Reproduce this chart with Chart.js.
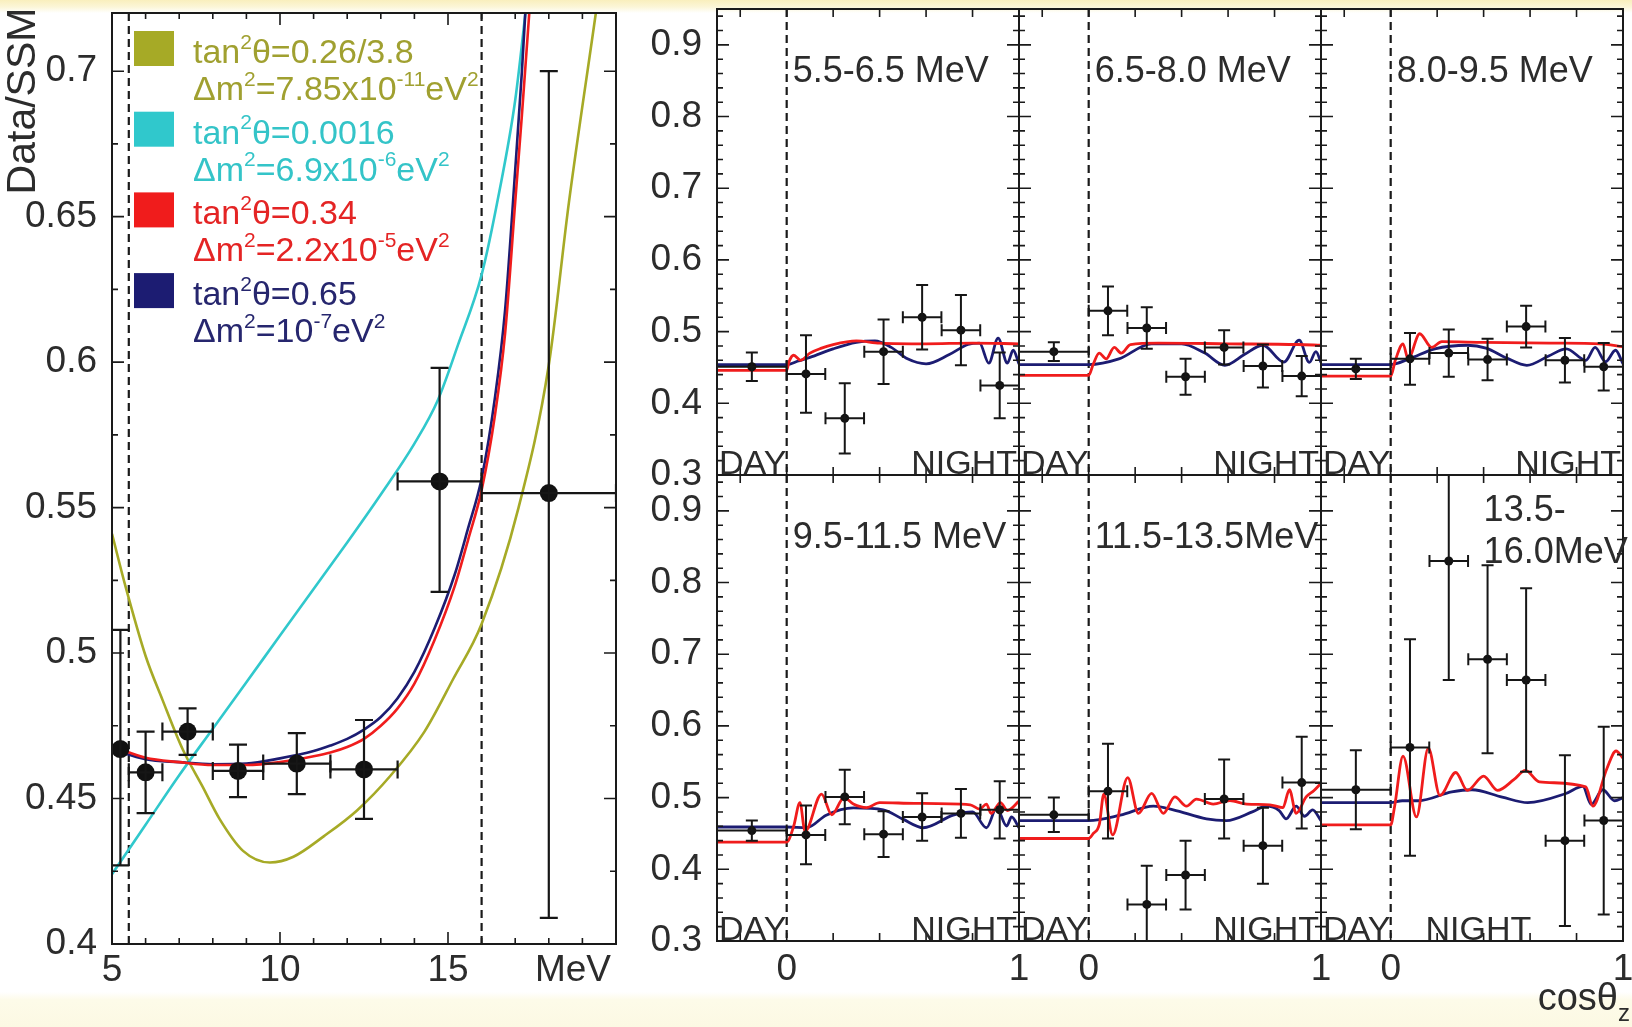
<!DOCTYPE html>
<html lang="en">
<head>
<meta charset="UTF-8">
<title>Data/SSM spectrum and zenith angle distributions</title>
<script src="https://cdn.jsdelivr.net/npm/chart.js"></script>
<style>
  html, body { margin: 0; padding: 0; }
  body {
    width: 1632px; height: 1027px; overflow: hidden; position: relative;
    background: linear-gradient(to bottom, #f9efbd 0px, #fcf6d8 7px, #ffffff 13px, #ffffff 992px, #fdfbe9 1000px, #fcf9e3 1027px);
  }
  canvas { position: absolute; left: 0; top: 0; }
</style>
</head>
<body>
<canvas id="spectrum" width="1632" height="1027"></canvas>
<script>
const W = 1632, H = 1027;
const FONT = '"Liberation Sans", Arial, Helvetica, sans-serif';
const INK = '#2c2c2c';
const RED = '#f01c1c', NAVY = '#1c1c72', CYAN = '#30c8cc', OLIVE = '#a6aa26';

// ---- energy spectrum (Data/SSM vs MeV) ----
const specEnergy  = [5.25, 6.0, 7.25, 8.75, 10.5, 12.5, 14.75, 18.0];
const specBinLow  = [5.25, 5.5, 6.5, 8.0, 9.5, 11.5, 13.5, 16.0];
const specBinHigh = [5.25, 6.5, 8.0, 9.5, 11.5, 13.5, 16.0, 20.0];
const specRatio   = [0.467, 0.459, 0.473, 0.4595, 0.462, 0.460, 0.559, 0.555];
const specErrUp   = [0.041, 0.014, 0.008, 0.009, 0.0105, 0.017, 0.039, 0.145];
const specErrDown = [0.040, 0.014, 0.008, 0.009, 0.0105, 0.017, 0.038, 0.146];

// model predictions
const vacEnergy = [5.0, 5.4, 6.0, 6.5, 7.1, 7.7, 8.2, 8.9, 9.7, 10.4, 11.3, 12.3, 13.3, 14.3, 15.15, 16.0, 17.1, 18.0, 18.6, 19.4, 19.7];
const vacRatio  = [0.541, 0.523, 0.499, 0.484, 0.467, 0.454, 0.443, 0.432, 0.428, 0.430, 0.437, 0.446, 0.458, 0.473, 0.491, 0.510, 0.550, 0.599, 0.655, 0.720, 0.745];
const smaEnergy = [5.0, 6.0, 7.0, 8.0, 9.0, 10.0, 11.0, 12.0, 13.0, 14.0, 14.7, 15.3, 16.0, 16.5, 17.0, 17.4];
const smaRatio  = [0.424, 0.441, 0.458, 0.474, 0.490, 0.506, 0.522, 0.538, 0.5545, 0.572, 0.587, 0.606, 0.630, 0.657, 0.690, 0.730];
const lmaEnergy = [5.0, 6.0, 7.0, 8.0, 9.0, 10.0, 11.0, 11.5, 12.0, 12.5, 13.0, 13.5, 14.0, 14.6, 15.2, 15.6, 16.0, 16.4, 16.7, 17.0, 17.2, 17.45];
const lmaRatio  = [0.468, 0.464, 0.4625, 0.4615, 0.4615, 0.4625, 0.4645, 0.4658, 0.4677, 0.4705, 0.475, 0.481, 0.4895, 0.5045, 0.523, 0.539, 0.556, 0.582, 0.610, 0.655, 0.685, 0.725];
const lowEnergy = [5.0, 6.0, 7.0, 8.0, 9.0, 10.0, 11.0, 11.5, 12.0, 12.5, 13.0, 13.5, 14.0, 14.6, 15.2, 15.6, 16.0, 16.4, 16.7, 17.0, 17.2, 17.4];
const lowRatio  = [0.467, 0.4635, 0.4625, 0.4618, 0.462, 0.4638, 0.4663, 0.4682, 0.4705, 0.4737, 0.478, 0.4845, 0.4935, 0.5085, 0.527, 0.543, 0.560, 0.588, 0.618, 0.666, 0.700, 0.740];

const modelColors = [OLIVE, CYAN, RED, NAVY];
const modelMixing = [
  [['tan'], ['2', 'sup'], ['\u03b8=0.26/3.8']],
  [['tan'], ['2', 'sup'], ['\u03b8=0.0016']],
  [['tan'], ['2', 'sup'], ['\u03b8=0.34']],
  [['tan'], ['2', 'sup'], ['\u03b8=0.65']]
];
const modelMass = [
  [['\u0394m'], ['2', 'sup'], ['=7.85x10'], ['-11', 'sup'], ['eV'], ['2', 'sup']],
  [['\u0394m'], ['2', 'sup'], ['=6.9x10'], ['-6', 'sup'], ['eV'], ['2', 'sup']],
  [['\u0394m'], ['2', 'sup'], ['=2.2x10'], ['-5', 'sup'], ['eV'], ['2', 'sup']],
  [['\u0394m'], ['2', 'sup'], ['=10'], ['-7', 'sup'], ['eV'], ['2', 'sup']]
];

// ---- zenith angle distributions, one panel per energy bin ----
const zenithLabels = [['5.5-6.5 MeV'], ['6.5-8.0 MeV'], ['8.0-9.5 MeV'], ['9.5-11.5 MeV'], ['11.5-13.5MeV'], ['13.5-', '16.0MeV']];
const zenithCos  = [-0.15, 0.083, 0.25, 0.417, 0.583, 0.75, 0.917];
const zenithHalf = [0.15, 0.083, 0.083, 0.083, 0.083, 0.083, 0.083];
const zenithRatio = [
  [0.451, 0.441, 0.379, 0.472, 0.520, 0.502, 0.425],
  [0.472, 0.529, 0.505, 0.437, 0.478, 0.452, 0.438],
  [0.448, 0.462, 0.470, 0.461, 0.507, 0.460, 0.451],
  [0.454, 0.448, 0.501, 0.449, 0.473, 0.478, 0.483],
  [0.476, 0.509, 0.351, 0.392, 0.498, 0.433, 0.521],
  [0.511, 0.570, 0.830, 0.693, 0.664, 0.440, 0.468]
];
const zenithErr = [
  [0.020, 0.054, 0.049, 0.045, 0.045, 0.049, 0.046],
  [0.013, 0.034, 0.029, 0.025, 0.024, 0.030, 0.028],
  [0.014, 0.036, 0.033, 0.029, 0.029, 0.031, 0.033],
  [0.014, 0.041, 0.038, 0.032, 0.033, 0.034, 0.040],
  [0.024, 0.066, 0.054, 0.048, 0.055, 0.053, 0.064],
  [0.055, 0.151, 0.166, 0.131, 0.128, 0.119, 0.131]
];
const lmaDay = [0.446, 0.439, 0.438, 0.438, 0.443, 0.462];
const lowDay = [0.454, 0.454, 0.454, 0.459, 0.468, 0.493];
const lmaNight = [
  [[0.01, 0.458], [0.03, 0.467], [0.06, 0.460], [0.10, 0.470], [0.15, 0.477], [0.20, 0.482], [0.30, 0.487], [0.40, 0.484], [0.60, 0.483], [0.80, 0.484], [1.00, 0.483]],
  [[0.02, 0.455], [0.045, 0.470], [0.075, 0.462], [0.11, 0.478], [0.14, 0.470], [0.18, 0.482], [0.30, 0.484], [0.60, 0.483], [0.90, 0.482], [1.00, 0.481]],
  [[0.02, 0.460], [0.053, 0.483], [0.075, 0.462], [0.125, 0.497], [0.176, 0.478], [0.22, 0.486], [0.40, 0.485], [0.70, 0.484], [0.90, 0.483], [1.00, 0.479]],
  [[0.03, 0.460], [0.057, 0.493], [0.079, 0.453], [0.15, 0.505], [0.194, 0.476], [0.247, 0.500], [0.287, 0.491], [0.344, 0.486], [0.40, 0.493], [0.55, 0.492], [0.79, 0.490], [0.83, 0.484], [0.86, 0.491], [0.88, 0.478], [0.92, 0.493], [0.95, 0.482], [1.00, 0.495]],
  [[0.02, 0.450], [0.046, 0.463], [0.065, 0.505], [0.103, 0.448], [0.168, 0.528], [0.214, 0.478], [0.271, 0.506], [0.321, 0.478], [0.371, 0.501], [0.421, 0.488], [0.464, 0.498], [0.536, 0.491], [0.607, 0.496], [0.68, 0.491], [0.78, 0.490], [0.836, 0.486], [0.864, 0.511], [0.893, 0.478], [0.936, 0.501], [0.97, 0.510], [1.00, 0.520]],
  [[0.017, 0.488], [0.053, 0.558], [0.111, 0.473], [0.162, 0.569], [0.212, 0.503], [0.28, 0.535], [0.33, 0.510], [0.40, 0.530], [0.46, 0.510], [0.53, 0.525], [0.58, 0.538], [0.64, 0.522], [0.84, 0.515], [0.87, 0.488], [0.93, 0.540], [0.97, 0.565], [1.00, 0.555]]
];
const lowNight = [
  [[0.05, 0.459], [0.10, 0.464], [0.20, 0.476], [0.30, 0.485], [0.38, 0.487], [0.45, 0.478], [0.52, 0.462], [0.60, 0.455], [0.70, 0.468], [0.78, 0.482], [0.83, 0.484], [0.87, 0.456], [0.91, 0.491], [0.95, 0.456], [0.975, 0.474], [1.00, 0.455]],
  [[0.13, 0.462], [0.27, 0.483], [0.40, 0.483], [0.50, 0.470], [0.586, 0.453], [0.67, 0.468], [0.75, 0.481], [0.84, 0.4575], [0.906, 0.488], [0.95, 0.457], [0.978, 0.472], [1.00, 0.457]],
  [[0.08, 0.462], [0.19, 0.476], [0.33, 0.481], [0.41, 0.477], [0.50, 0.463], [0.586, 0.453], [0.68, 0.466], [0.756, 0.476], [0.84, 0.460], [0.88, 0.478], [0.925, 0.458], [0.968, 0.474], [1.00, 0.455]],
  [[0.086, 0.458], [0.17, 0.4755], [0.287, 0.4856], [0.416, 0.483], [0.50, 0.470], [0.588, 0.458], [0.717, 0.4755], [0.80, 0.480], [0.86, 0.458], [0.904, 0.4856], [0.947, 0.4604], [0.968, 0.473], [1.00, 0.458]],
  [[0.136, 0.4755], [0.279, 0.488], [0.364, 0.483], [0.507, 0.4704], [0.593, 0.468], [0.707, 0.4805], [0.764, 0.488], [0.82, 0.482], [0.85, 0.4704], [0.893, 0.488], [0.929, 0.474], [0.964, 0.483], [1.00, 0.468]],
  [[0.05, 0.4956], [0.12, 0.4956], [0.263, 0.508], [0.35, 0.511], [0.48, 0.5007], [0.59, 0.493], [0.754, 0.5057], [0.827, 0.5158], [0.863, 0.4906], [0.913, 0.511], [0.964, 0.4956], [1.00, 0.500]]
];

Chart.defaults.font.family = FONT;

// draws a run of text pieces, some of them raised as superscripts
function richText(ctx, parts, x, y, size, color, align) {
  ctx.save();
  ctx.fillStyle = color;
  ctx.textBaseline = 'alphabetic';
  ctx.textAlign = 'left';
  const items = parts.map(p => {
    const s = p[1] ? Math.round(size * 0.62) : size;
    ctx.font = s + 'px ' + FONT;
    return { t: p[0], s: s, w: ctx.measureText(p[0]).width, dy: p[1] === 'sup' ? -size * 0.42 : p[1] === 'sub' ? size * 0.3 : 0 };
  });
  const total = items.reduce((acc, it) => acc + it.w, 0);
  let cx = align === 'right' ? x - total : align === 'center' ? x - total / 2 : x;
  items.forEach(it => {
    ctx.font = it.s + 'px ' + FONT;
    ctx.fillText(it.t, cx, y + it.dy);
    cx += it.w;
  });
  ctx.restore();
}

function label(ctx, text, x, y, size, align, baseline) {
  ctx.save();
  ctx.font = size + 'px ' + FONT;
  ctx.fillStyle = INK;
  ctx.textAlign = align;
  ctx.textBaseline = baseline;
  ctx.fillText(text, x, y);
  ctx.restore();
}

// frame, inward ticks, dashed markers and error bars for one panel
function framePlugin(cfg) {
  return {
    id: 'frame',
    beforeDatasetsDraw(chart) {
      const { ctx, chartArea: a, scales: { x } } = chart;
      ctx.save();
      ctx.beginPath();
      ctx.rect(a.left, a.top, a.width, a.height);
      ctx.clip();
      ctx.strokeStyle = '#1a1a1a';
      ctx.lineWidth = 2.2;
      ctx.setLineDash([8, 5]);
      cfg.dashed.forEach(v => {
        const px = x.getPixelForValue(v);
        ctx.beginPath();
        ctx.moveTo(px, a.top);
        ctx.lineTo(px, a.bottom);
        ctx.stroke();
      });
      ctx.restore();
    },
    afterDatasetsDraw(chart) {
      const { ctx, chartArea: a, scales: { x, y } } = chart;
      ctx.save();
      ctx.beginPath();
      ctx.rect(a.left, a.top, a.width, a.height);
      ctx.clip();
      ctx.strokeStyle = '#161616';
      ctx.lineWidth = cfg.barWidth;
      cfg.bars.forEach(b => {
        const px = x.getPixelForValue(b.x), py = y.getPixelForValue(b.y);
        const y1 = y.getPixelForValue(b.yl), y2 = y.getPixelForValue(b.yh);
        ctx.beginPath();
        ctx.moveTo(px, y1); ctx.lineTo(px, y2);
        ctx.moveTo(px - cfg.cap, y1); ctx.lineTo(px + cfg.cap, y1);
        ctx.moveTo(px - cfg.cap, y2); ctx.lineTo(px + cfg.cap, y2);
        if (b.xl !== b.xh) {
          const x1 = x.getPixelForValue(b.xl), x2 = x.getPixelForValue(b.xh);
          ctx.moveTo(x1, py); ctx.lineTo(x2, py);
          ctx.moveTo(x1, py - cfg.cap); ctx.lineTo(x1, py + cfg.cap);
          ctx.moveTo(x2, py - cfg.cap); ctx.lineTo(x2, py + cfg.cap);
        }
        ctx.stroke();
      });
      ctx.restore();

      ctx.save();
      ctx.strokeStyle = '#1a1a1a';
      ctx.lineWidth = 2;
      ctx.strokeRect(a.left, a.top, a.width, a.height);
      ctx.lineWidth = 1.6;
      ctx.beginPath();
      cfg.xTicks.forEach(([v, len]) => {
        const px = x.getPixelForValue(v);
        ctx.moveTo(px, a.top); ctx.lineTo(px, a.top + len);
        ctx.moveTo(px, a.bottom); ctx.lineTo(px, a.bottom - len);
      });
      cfg.yTicks.forEach(([v, len]) => {
        const py = y.getPixelForValue(v);
        ctx.moveTo(a.left, py); ctx.lineTo(a.left + len, py);
        ctx.moveTo(a.right, py); ctx.lineTo(a.right - len, py);
      });
      ctx.stroke();
      ctx.restore();

      cfg.xLabels.forEach(v => label(ctx, String(v), x.getPixelForValue(v), cfg.xLabelY, 37, 'center', 'middle'));
      cfg.yLabels.forEach(v => label(ctx, cfg.yFormat(v), a.left - 15, y.getPixelForValue(v), 37, 'right', 'middle'));
      if (cfg.extra) cfg.extra(chart);
    }
  };
}

function curve(xs, ys) {
  return xs.map((v, i) => ({ x: v, y: ys[i] }));
}

function lineSet(data, color, width) {
  return {
    data: data, showLine: true, borderColor: color, borderWidth: width,
    pointRadius: 0, cubicInterpolationMode: 'monotone', clip: 0
  };
}

function baseOptions(area, xr, yr) {
  return {
    responsive: false,
    animation: false,
    events: [],
    layout: { padding: { left: area[0], top: area[1], right: W - area[2], bottom: H - area[3] } },
    scales: {
      x: { type: 'linear', min: xr[0], max: xr[1], display: false },
      y: { type: 'linear', min: yr[0], max: yr[1], display: false }
    },
    plugins: { legend: { display: false }, tooltip: { enabled: false } }
  };
}

// ---- left panel: spectrum ----
(function () {
  const xTicks = [];
  for (let e = 5; e <= 20; e++) xTicks.push([e, e % 5 === 0 ? 12 : 6]);
  const yTicks = [];
  for (let k = 0; k <= 13; k++) yTicks.push([0.4 + k * 0.025, k % 2 === 0 ? 12 : 6]);

  const bars = specEnergy.map((e, i) => ({
    x: e, y: specRatio[i], xl: specBinLow[i], xh: specBinHigh[i],
    yl: specRatio[i] - specErrDown[i], yh: specRatio[i] + specErrUp[i]
  }));

  const cfg = {
    dashed: [5.5, 16],
    bars: bars, cap: 9, barWidth: 2.2,
    xTicks: xTicks, yTicks: yTicks,
    xLabels: [5, 10, 15], xLabelY: 971,
    yLabels: [0.4, 0.45, 0.5, 0.55, 0.6, 0.65, 0.7],
    yFormat: v => String(v),
    extra(chart) {
      const ctx = chart.ctx;
      label(ctx, 'MeV', 573, 971, 37, 'center', 'middle');
      ctx.save();
      ctx.translate(35, 101);
      ctx.rotate(-Math.PI / 2);
      label(ctx, 'Data/SSM', 0, 0, 41, 'center', 'alphabetic');
      ctx.restore();
      const textColors = ['#a0a030', '#34c4c8', '#e42424', '#26266e'];
      modelColors.forEach((c, i) => {
        const top = 31 + i * 80.7;
        ctx.fillStyle = c;
        ctx.fillRect(134, top, 40, 35);
        richText(ctx, modelMixing[i], 193, top + 32, 34, textColors[i], 'left');
        richText(ctx, modelMass[i], 193, top + 69, 34, textColors[i], 'left');
      });
    }
  };

  new Chart(document.getElementById('spectrum'), {
    type: 'scatter',
    data: {
      datasets: [
        { data: curve(specEnergy, specRatio), pointRadius: 9, pointBackgroundColor: '#111', pointBorderWidth: 0, showLine: false },
        lineSet(curve(lmaEnergy, lmaRatio), RED, 2.6),
        lineSet(curve(lowEnergy, lowRatio), NAVY, 2.6),
        lineSet(curve(smaEnergy, smaRatio), CYAN, 2.6),
        lineSet(curve(vacEnergy, vacRatio), OLIVE, 2.6)
      ]
    },
    options: baseOptions([112, 13, 616, 944], [5, 20], [0.4, 0.72]),
    plugins: [framePlugin(cfg)]
  });
})();

// ---- right block: zenith angle panels ----
zenithLabels.forEach((title, i) => {
  const canvas = document.createElement('canvas');
  canvas.width = W;
  canvas.height = H;
  document.body.appendChild(canvas);

  const col = i % 3, row = Math.floor(i / 3);
  const left = 717 + col * 302, right = left + 302;
  const top = row ? 475 : 9, bottom = row ? 941 : 475;

  const xTicks = [];
  for (let k = -1; k <= 4; k++) xTicks.push([k * 0.2, 8]);
  const yTicks = [];
  for (let k = 0; k <= 32; k++) yTicks.push([0.3 + k * 0.02, k % 5 === 0 ? 12 : 6]);

  const bars = zenithCos.map((c, j) => ({
    x: c, y: zenithRatio[i][j], xl: c - zenithHalf[j], xh: c + zenithHalf[j],
    yl: zenithRatio[i][j] - zenithErr[i][j], yh: zenithRatio[i][j] + zenithErr[i][j]
  }));

  const lma = [{ x: -0.3, y: lmaDay[i] }, { x: 0, y: lmaDay[i] }].concat(lmaNight[i].map(p => ({ x: p[0], y: p[1] })));
  const low = [{ x: -0.3, y: lowDay[i] }, { x: 0, y: lowDay[i] }].concat(lowNight[i].map(p => ({ x: p[0], y: p[1] })));

  const cfg = {
    dashed: [0],
    bars: bars, cap: 6, barWidth: 2,
    xTicks: xTicks, yTicks: yTicks,
    xLabels: row ? [0, 1] : [], xLabelY: 970,
    yLabels: col === 0 ? [0.3, 0.4, 0.5, 0.6, 0.7, 0.8, 0.9] : [],
    yFormat: v => v.toFixed(1),
    extra(chart) {
      const ctx = chart.ctx, xs = chart.scales.x;
      label(ctx, 'DAY', left + 2, bottom - 1, 34, 'left', 'alphabetic');
      if (i === 5) label(ctx, 'NIGHT', xs.getPixelForValue(0.15), bottom - 1, 34, 'left', 'alphabetic');
      else label(ctx, 'NIGHT', right - 2, bottom - 1, 34, 'right', 'alphabetic');
      if (title.length === 1) {
        label(ctx, title[0], xs.getPixelForValue(0) + 6, top + 73, 36, 'left', 'alphabetic');
      } else {
        label(ctx, title[0], xs.getPixelForValue(0.4), top + 46, 36, 'left', 'alphabetic');
        label(ctx, title[1], xs.getPixelForValue(0.4), top + 88, 36, 'left', 'alphabetic');
      }
      if (i === 5) {
        richText(ctx, [['cos\u03b8'], ['z', 'sub']], 1630, 1010, 38, INK, 'right');
      }
    }
  };

  new Chart(canvas, {
    type: 'scatter',
    data: {
      datasets: [
        { data: curve(zenithCos, zenithRatio[i]), pointRadius: 4.5, pointBackgroundColor: '#111', pointBorderWidth: 0, showLine: false, clip: 0 },
        lineSet(lma, RED, 2.8),
        lineSet(low, NAVY, 2.8)
      ]
    },
    options: baseOptions([left, top, right, bottom], [-0.3, 1], [0.3, 0.95]),
    plugins: [framePlugin(cfg)]
  });
});
</script>
</body>
</html>
